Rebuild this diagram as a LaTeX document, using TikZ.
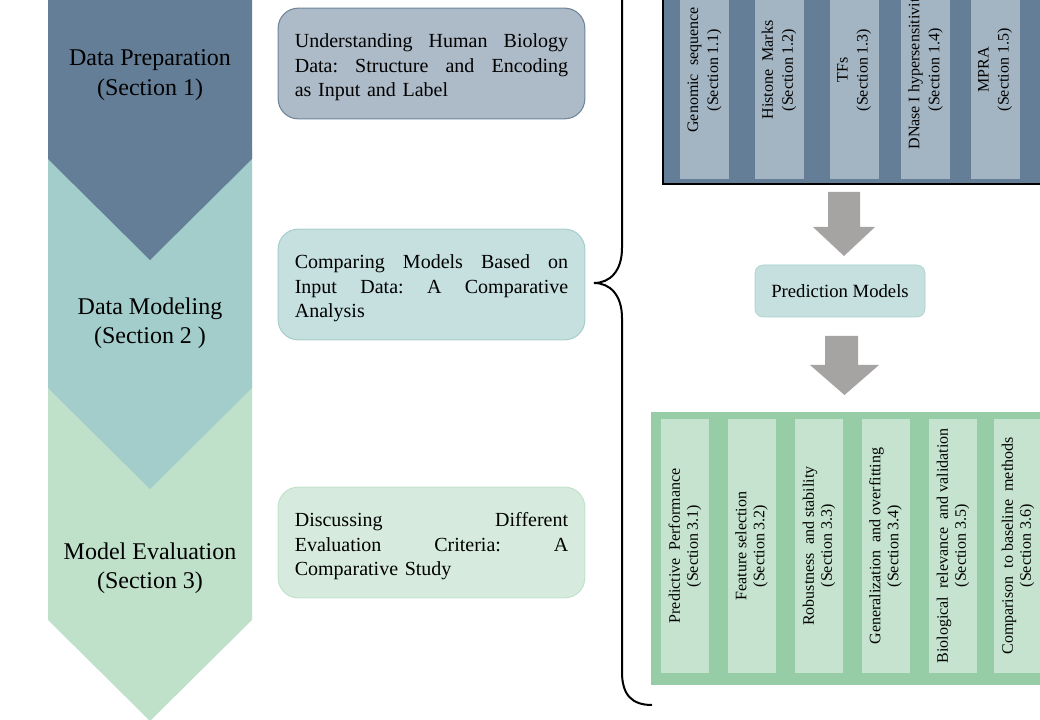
\documentclass[tikz,border=0pt]{standalone}
\usepackage{fontspec}
\setmainfont{Liberation Serif}

\definecolor{prepslate}{HTML}{637E96}
\definecolor{prepcol}{HTML}{A3B4C2}
\definecolor{prepfill}{HTML}{ADBAC7}
\definecolor{prepedge}{HTML}{6F8599}
\definecolor{modelteal}{HTML}{A2CDCA}
\definecolor{modelfill}{HTML}{C5E0DF}
\definecolor{modeledge}{HTML}{A8CFCB}
\definecolor{evalgreen}{HTML}{BFE0C9}
\definecolor{evalfill}{HTML}{D6EBDD}
\definecolor{evaledge}{HTML}{C3E2CC}
\definecolor{evalouter}{HTML}{97CDA6}
\definecolor{evalcol}{HTML}{C5E3CE}
\definecolor{arrowgray}{HTML}{A6A3A3}

\newcommand{\boxstrut}{\rule{0pt}{16.5pt}}

\tikzset{
	chevtext/.style={align=center, font=\fontsize{18}{22}\selectfont},
	sectbox/.style={rounded corners=15pt, line width=0.8pt, minimum width=230pt, minimum height=83pt,
		text width=205pt, align=left, font=\fontsize{15}{18.3}\selectfont},
	datacol/.style={fill=prepcol, rotate=90, minimum width=163.5pt, minimum height=36.75pt,
		inner sep=0pt, align=center, font=\fontsize{12}{15}\selectfont},
	critcol/.style={fill=evalcol, rotate=90, minimum width=190.5pt, minimum height=36pt,
		inner sep=0pt, align=center, font=\fontsize{12}{13.5}\selectfont},
}

\begin{document}
\begin{tikzpicture}[x=0.75pt, y=-0.75pt]
	\useasboundingbox (0,0) rectangle (1040,720);
	\clip (0,0) rectangle (1040,720);

	% chevrons
	\fill[evalgreen] (48,380) -- (252,380) -- (252,620) -- (150,721) -- (48,620) -- cycle;
	\fill[modelteal] (48,150) -- (252,150) -- (252,388) -- (150,489) -- (48,388) -- cycle;
	\fill[prepslate] (48,-5) -- (252,-5) -- (252,159) -- (150,260) -- (48,159) -- cycle;
	\node[chevtext] (prep) at (150,75) {Data Preparation\\(Section 1)};
	\node[chevtext] (model) at (150,323) {Data Modeling\\(Section 2 )};
	\node[chevtext] (evalsec) at (150,568) {Model Evaluation\\(Section 3)};

	% section boxes
	\node[sectbox, draw=prepedge, fill=prepfill] (boxprep) at (431.5,63.5)
		{\boxstrut Understanding\hfill Human\hfill Biology\\Data:\hfill Structure\hfill and\hfill Encoding\\as Input and Label};
	\node[sectbox, draw=modeledge, fill=modelfill] (boxmodel) at (431.5,284.5)
		{\boxstrut Comparing\hfill Models\hfill Based\hfill on\\Input\hfill Data:\hfill A\hfill Comparative\\Analysis};
	\node[sectbox, draw=evaledge, fill=evalfill] (boxeval) at (431.5,542.5)
		{\boxstrut Discussing\hfill Different\\Evaluation\hfill Criteria:\hfill A\\Comparative Study};

	% brace
	\draw[line width=1.5pt] (652,705) .. controls (632,705) and (622,695) .. (622,672) -- (622,318)
		.. controls (622,295) and (610,283) .. (594,283) .. controls (610,283) and (622,271) .. (622,248)
		-- (622,-106) .. controls (622,-129) and (632,-139) .. (652,-139);

	% input data
	\filldraw[fill=prepslate, draw=black, line width=1.2pt] (663,-60) rectangle (1060,184);
	\node[datacol] (gs) at (704.5,70) {Genomic\ \ sequence\\(Section\ 1.1)};
	\node[datacol] (hm) at (779,70) {Histone\ \ Marks\\(Section\ 1.2)};
	\node[datacol] (tf) at (854,70) {TFs\\(Section\ 1.3)};
	\node[datacol] (dnase) at (925.5,70) {DNase I hypersensitivity\\(Section 1.4)};
	\node[datacol] (mpra) at (995,70) {MPRA\\(Section\ 1.5)};

	% block arrows
	\fill[arrowgray] (828,192) -- (860,192) -- (860,227) -- (875,227) -- (844,256) -- (813,227) -- (828,227) -- cycle;
	\node[rounded corners=6pt, draw=modeledge, fill=modelfill, minimum width=127.5pt, minimum height=39pt,
		font=\fontsize{14}{17}\selectfont] (pm) at (840,291) {Prediction Models};
	\fill[arrowgray] (825,336) -- (858,336) -- (858,365) -- (879,365) -- (844.5,395) -- (810,365) -- (825,365) -- cycle;

	% evaluation criteria
	\fill[evalouter] (651,412) rectangle (1060,685);
	\node[critcol] (perf) at (685,546) {Predictive\ \ Performance\\(Section\ 3.1)};
	\node[critcol] (feat) at (751.5,546) {Feature\ selection\\(Section\ 3.2)};
	\node[critcol] (robust) at (819,546) {Robustness\ \ and\ stability\\(Section\ 3.3)};
	\node[critcol] (gen) at (885.5,546) {Generalization\ \ and\ overfitting\\(Section\ 3.4)};
	\node[critcol] (bio) at (953,546) {Biological\ \ relevance\ \ and\ validation\\(Section\ 3.5)};
	\node[critcol] (base) at (1018,546) {Comparison\ \ to baseline\ \ methods\\(Section\ 3.6)};
\end{tikzpicture}
\end{document}
